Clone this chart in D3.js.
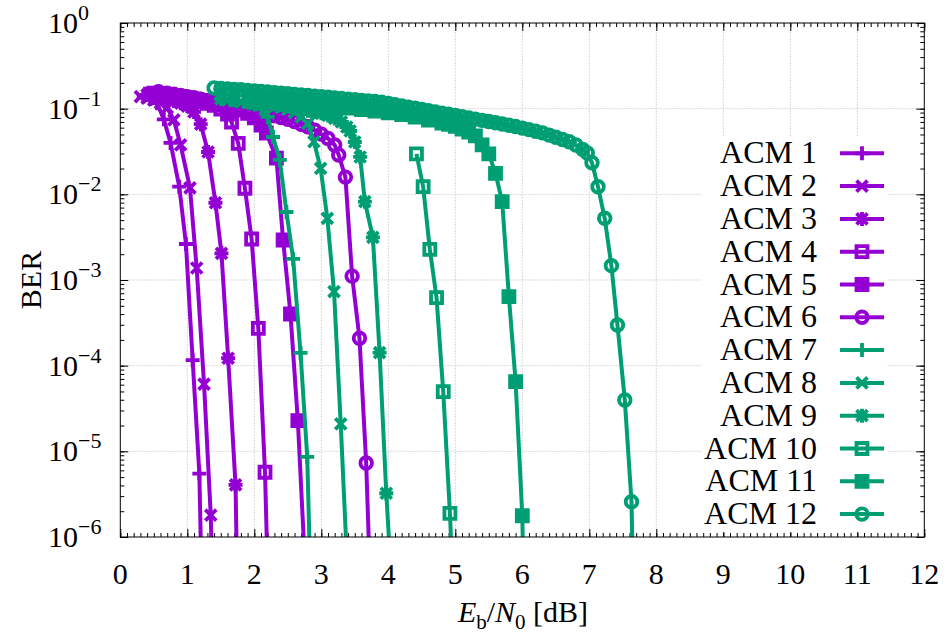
<!DOCTYPE html>
<html>
<head>
<meta charset="utf-8">
<title>BER vs Eb/N0</title>
<script src="https://d3js.org/d3.v7.min.js"></script>
<style>
  body { margin: 0; background: #fff; }
</style>
</head>
<body>
<svg id="chart" width="947" height="638"
     font-family="'Liberation Serif', 'Times New Roman', Times, serif"></svg>
<script>
// series names, colours and point types (gnuplot style 1..6)
const labels = ["ACM 1", "ACM 2", "ACM 3", "ACM 4", "ACM 5", "ACM 6",
                "ACM 7", "ACM 8", "ACM 9", "ACM 10", "ACM 11", "ACM 12"];
const colors = ["#9400d3", "#9400d3", "#9400d3", "#9400d3", "#9400d3", "#9400d3",
                "#009e73", "#009e73", "#009e73", "#009e73", "#009e73", "#009e73"];
const symbols = ["plus", "cross", "star", "box", "boxfill", "circle",
                 "plus", "cross", "star", "box", "boxfill", "circle"];

// [Eb/N0 dB, BER]  (last point of each curve lies below the plot, it only gives the line its direction)
const acm1 = [[0.35,0.140],[0.45,0.130],[0.55,0.116],[0.65,0.075],[0.75,0.0398],[0.88,0.0123],
  [0.98,2.63e-3],[1.08,1.16e-4],[1.18,5.5e-6],[1.28,1e-9]];
const acm2 = [[0.3,0.138],[0.4,0.133],[0.5,0.126],[0.6,0.116],[0.7,0.102],[0.8,0.074],[0.9,0.0377],
  [1.04,0.0119],[1.14,1.38e-3],[1.25,6.1e-5],[1.35,1.8e-6],[1.45,1e-9]];
const acm3 = [[0.4,0.145],[0.5,0.141],[0.6,0.135],[0.7,0.130],[0.8,0.123],[0.9,0.116],[1.0,0.107],
  [1.1,0.0915],[1.2,0.066],[1.31,0.0312],[1.42,7.98e-3],[1.51,2.05e-3],[1.61,1.22e-4],[1.72,4.05e-6],[1.82,1e-10]];
const acm4 = [[0.45,0.148],[0.6,0.143],[0.7,0.139],[0.8,0.135],[0.9,0.131],[1.0,0.128],[1.1,0.125],
  [1.2,0.12],[1.3,0.115],[1.4,0.109],[1.5,0.099],[1.6,0.0866],[1.66,0.0699],[1.76,0.0394],[1.86,0.01177],
  [1.96,3.01e-3],[2.06,2.73e-4],[2.16,5.7e-6],[2.26,6e-9]];
const acm5 = [[0.5,0.152],[0.6,0.149],[0.7,0.146],[0.8,0.142],[0.9,0.138],[1.0,0.133],[1.1,0.129],
  [1.2,0.125],[1.3,0.121],[1.4,0.117],[1.5,0.113],[1.6,0.108],[1.7,0.102],[1.8,0.0965],[1.9,0.088],
  [2.0,0.078],[2.1,0.0645],[2.18,0.052],[2.33,0.0264],[2.43,2.93e-3],[2.54,4.01e-4],[2.65,2.28e-5],[2.75,6e-7]];
const acm6 = [[0.57,0.158],[0.7,0.152],[0.8,0.1476],[0.9,0.1429],[1.0,0.1383],[1.1,0.134],[1.2,0.129],
  [1.3,0.124],[1.4,0.120],[1.5,0.1156],[1.6,0.111],[1.7,0.107],[1.8,0.1028],[1.9,0.0989],[2.0,0.0947],
  [2.1,0.0902],[2.2,0.0862],[2.3,0.0826],[2.4,0.0789],[2.5,0.075],[2.6,0.0706],[2.7,0.0659],[2.8,0.0614],
  [2.9,0.0561],[3.0,0.0504],[3.1,0.0449],[3.2,0.0377],[3.26,0.0288],[3.36,0.0159],[3.46,1.11e-3],
  [3.57,2.09e-4],[3.67,7.3e-6],[3.77,3.3e-8]];
const acm7 = [[1.5,0.130],[1.7,0.125],[1.9,0.118],[2.0,0.112],[2.1,0.100],[2.2,0.080],[2.28,0.0467],
  [2.38,0.0252],[2.48,6.22e-3],[2.58,1.76e-3],[2.69,1.41e-4],[2.79,8.6e-6],[2.89,9e-9]];
const acm8 = [[1.5,0.1298],[1.6,0.126],[1.7,0.1229],[1.8,0.1197],[1.9,0.1166],[2.0,0.1133],[2.1,0.111],
  [2.2,0.1089],[2.3,0.106],[2.4,0.1032],[2.5,0.0978],[2.6,0.0902],[2.7,0.080],[2.8,0.0671],[2.89,0.0411],
  [2.99,0.0201],[3.09,5.25e-3],[3.19,7.3e-4],[3.29,2.09e-5],[3.39,4.1e-7]];
const acm9 = [[2.3,0.1133],[2.4,0.110],[2.5,0.106],[2.6,0.102],[2.7,0.0978],[2.8,0.0945],[2.9,0.0915],
  [3.0,0.0883],[3.1,0.0832],[3.2,0.0768],[3.3,0.0699],[3.38,0.0611],[3.43,0.0549],[3.5,0.0408],
  [3.58,0.0273],[3.65,8.2e-3],[3.77,3.15e-3],[3.87,1.42e-4],[3.97,3.24e-6],[4.07,1.5e-7]];
const acm10 = [[4.42,0.0296],[4.52,0.01228],[4.62,2.28e-3],[4.72,6.22e-4],[4.82,4.97e-5],[4.92,1.89e-6],[5.02,2.9e-8]];
const acm11 = [[2.0,0.135],[2.2,0.1297],[2.4,0.1245],[2.6,0.1197],[2.8,0.1149],[3.0,0.1104],[3.2,0.106],
  [3.4,0.1018],[3.6,0.0978],[3.8,0.0939],[4.0,0.0895],[4.2,0.0853],[4.4,0.0799],[4.6,0.0737],[4.8,0.068],
  [4.9,0.0654],[5.0,0.062],[5.1,0.0579],[5.2,0.0534],[5.3,0.048],[5.4,0.0377],[5.5,0.0296],[5.6,0.0176],
  [5.7,8.2e-3],[5.8,6.38e-4],[5.9,6.5e-5],[6.0,1.77e-6],[6.1,1e-10]];
const acm12 = [[1.4,0.1743],[1.5,0.1724],[1.6,0.170],[1.7,0.168],[1.8,0.166],[1.9,0.163],[2.0,0.161],
  [2.1,0.159],[2.2,0.157],[2.3,0.154],[2.4,0.152],[2.5,0.150],[2.6,0.147],[2.7,0.145],[2.8,0.1425],
  [2.9,0.140],[3.0,0.138],[3.1,0.136],[3.2,0.1336],[3.3,0.1315],[3.4,0.1294],[3.5,0.127],[3.6,0.125],
  [3.7,0.123],[3.8,0.121],[3.9,0.1187],[4.0,0.115],[4.1,0.111],[4.2,0.1077],[4.3,0.1043],[4.4,0.101],
  [4.5,0.0977],[4.6,0.0946],[4.7,0.0917],[4.8,0.0888],[4.9,0.086],[5.0,0.0832],[5.1,0.0806],[5.2,0.078],
  [5.3,0.0754],[5.4,0.073],[5.5,0.0707],[5.6,0.0684],[5.7,0.0662],[5.8,0.0641],[5.9,0.0618],[6.0,0.0592],
  [6.1,0.0569],[6.2,0.0545],[6.3,0.0522],[6.4,0.0491],[6.5,0.0463],[6.6,0.0437],[6.7,0.0411],[6.8,0.0377],
  [6.9,0.0335],[6.97,0.0304],[7.04,0.0234],[7.13,0.01228],[7.23,5.25e-3],[7.33,1.47e-3],[7.42,2.98e-4],
  [7.53,3.97e-5],[7.63,2.58e-6],[7.73,2e-10]];
const series = [acm1, acm2, acm3, acm4, acm5, acm6, acm7, acm8, acm9, acm10, acm11, acm12];

const xTicks = [0, 1, 2, 3, 4, 5, 6, 7, 8, 9, 10, 11, 12];
const yExponents = [0, -1, -2, -3, -4, -5, -6];

const svg = d3.select("#chart");
const pLeft = 120.3, pRight = 924.3, pTop = 23, pBottom = 537;

const x = d3.scaleLinear().domain([0, 12]).range([pLeft, pRight]);
const y = d3.scaleLog().domain([1e-6, 1]).range([pBottom, pTop]);

svg.append("defs").append("clipPath").attr("id", "plotclip")
  .append("rect").attr("x", pLeft).attr("y", pTop)
  .attr("width", pRight - pLeft).attr("height", pBottom - pTop);

// grid
const grid = svg.append("g").attr("stroke", "#d9d9d9").attr("stroke-width", 1)
  .attr("stroke-dasharray", "2,1");
grid.selectAll(".gx").data(xTicks.slice(1, -1)).join("line")
  .attr("x1", d => x(d)).attr("x2", d => x(d)).attr("y1", pTop).attr("y2", pBottom);
grid.selectAll(".gy").data(yExponents.slice(1, -1)).join("line")
  .attr("x1", pLeft).attr("x2", pRight)
  .attr("y1", d => y(Math.pow(10, d))).attr("y2", d => y(Math.pow(10, d)));

// ticks (inward, mirrored)
function tickAxis(axis, tx, ty) {
  const g = svg.append("g").attr("transform", `translate(${tx},${ty})`).call(axis);
  g.select(".domain").remove();
  g.selectAll("line").attr("stroke", "#000").attr("stroke-width", 1);
  return g;
}
const xMinor = x.ticks(120);
const yMinor = y.ticks();
const yMajor = yExponents.map(e => Math.pow(10, e));
tickAxis(d3.axisBottom(x).tickValues(xMinor).tickSize(-4).tickFormat(""), 0, pBottom);
tickAxis(d3.axisTop(x).tickValues(xMinor).tickSize(-4).tickFormat(""), 0, pTop);
tickAxis(d3.axisBottom(x).tickValues(xTicks).tickSize(-8).tickFormat(""), 0, pBottom);
tickAxis(d3.axisTop(x).tickValues(xTicks).tickSize(-8).tickFormat(""), 0, pTop);
tickAxis(d3.axisLeft(y).tickValues(yMinor).tickSize(-4).tickFormat(""), pLeft, 0);
tickAxis(d3.axisRight(y).tickValues(yMinor).tickSize(-4).tickFormat(""), pRight, 0);
tickAxis(d3.axisLeft(y).tickValues(yMajor).tickSize(-8).tickFormat(""), pLeft, 0);
tickAxis(d3.axisRight(y).tickValues(yMajor).tickSize(-8).tickFormat(""), pRight, 0);

// tick labels
svg.append("g").selectAll("text").data(xTicks).join("text")
  .attr("x", d => x(d)).attr("y", 584).attr("text-anchor", "middle")
  .attr("font-size", 30).text(d => d);

const yl = svg.append("g").selectAll("text").data(yExponents).join("text")
  .attr("x", 48).attr("y", d => y(Math.pow(10, d)) + 10).attr("font-size", 30);
yl.append("tspan").text("10");
yl.append("tspan").attr("font-size", 22).attr("dy", -13)
  .text(d => d === 0 ? "0" : "\u2212" + (-d));

// axis titles
svg.append("text").attr("transform", "translate(41,280) rotate(-90)")
  .attr("text-anchor", "middle").attr("font-size", 30).text("BER");
const xt = svg.append("text").attr("x", 523).attr("y", 622).attr("text-anchor", "middle").attr("font-size", 30);
xt.append("tspan").attr("font-style", "italic").text("E");
xt.append("tspan").attr("font-size", 21).attr("dy", 7).text("b");
xt.append("tspan").attr("dy", -7).text("/");
xt.append("tspan").attr("font-style", "italic").text("N");
xt.append("tspan").attr("font-size", 21).attr("dy", 7).text("0");
xt.append("tspan").attr("dy", -7).text(" [dB]");

// point symbols, hollow ones let the line show through like gnuplot
function symbolPath(type) {
  const p = d3.path();
  if (type === "plus" || type === "star") {
    p.moveTo(-7, 0); p.lineTo(7, 0); p.moveTo(0, -7); p.lineTo(0, 7);
  }
  if (type === "cross" || type === "star") {
    p.moveTo(-5.5, -5.5); p.lineTo(5.5, 5.5); p.moveTo(-5.5, 5.5); p.lineTo(5.5, -5.5);
  }
  if (type === "box" || type === "boxfill") {
    p.rect(-5.5, -5.5, 11, 11);
  }
  if (type === "circle") {
    p.moveTo(5.8, 0); p.arc(0, 0, 5.8, 0, 2 * Math.PI);
  }
  return p.toString();
}
function drawSymbols(g, pts, type, color) {
  g.selectAll("path.pt").data(pts).join("path").attr("class", "pt")
    .attr("transform", d => `translate(${d[0]},${d[1]})`)
    .attr("d", symbolPath(type))
    .attr("fill", type === "boxfill" ? color : "none")
    .attr("stroke", color).attr("stroke-width", 3.8);
}

const line = d3.line().x(d => x(d[0])).y(d => y(d[1]));
const plot = svg.append("g").attr("clip-path", "url(#plotclip)");
series.forEach((s, i) => {
  const g = plot.append("g");
  g.append("path").datum(s).attr("d", line).attr("fill", "none")
    .attr("stroke", colors[i]).attr("stroke-width", 4).attr("stroke-linejoin", "round");
  drawSymbols(g, s.map(d => [x(d[0]), y(d[1])]), symbols[i], colors[i]);
});

// legend
svg.append("rect").attr("x", 702).attr("y", 137).attr("width", 185).attr("height", 395).attr("fill", "#fff");
const leg = svg.append("g");
labels.forEach((lab, i) => {
  const ly = 153.3 + i * 32.8;
  leg.append("text").attr("x", 817).attr("y", ly + 10).attr("text-anchor", "end")
    .attr("font-size", 32).text(lab);
  leg.append("line").attr("x1", 840).attr("x2", 884).attr("y1", ly).attr("y2", ly)
    .attr("stroke", colors[i]).attr("stroke-width", 4);
  drawSymbols(leg.append("g"), [[862, ly]], symbols[i], colors[i]);
});

// border
svg.append("rect").attr("x", pLeft).attr("y", pTop).attr("width", pRight - pLeft).attr("height", pBottom - pTop)
  .attr("fill", "none").attr("stroke", "#000").attr("stroke-width", 1);
</script>
</body>
</html>
